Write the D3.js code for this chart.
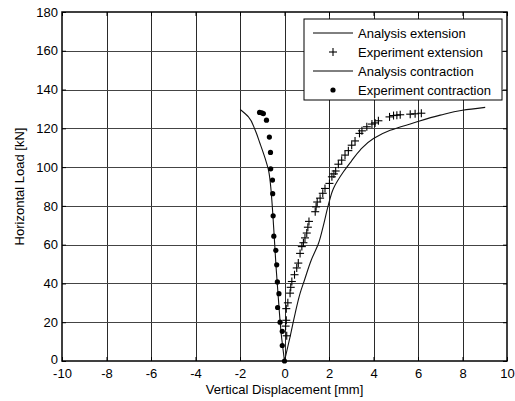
<!DOCTYPE html>
<html>
<head>
<meta charset="utf-8">
<script src="https://cdn.jsdelivr.net/npm/d3@7"></script>
<style>
  html, body { margin: 0; padding: 0; background: #fff; }
  svg { display: block; }
  text { font-family: "Liberation Sans", Arial, sans-serif; fill: #000; }
</style>
</head>
<body>
<svg id="chart" width="515" height="401"></svg>
<script>
// Tick values
const xTicks = [-10, -8, -6, -4, -2, 0, 2, 4, 6, 8, 10];
const yTicks = [0, 20, 40, 60, 80, 100, 120, 140, 160, 180];

// Analysis curve, extension side (displacement mm, load kN)
const anaExtX = [0, 0.25, 0.48, 0.70, 0.90, 1.20, 1.53, 1.75, 1.97, 2.20, 2.65, 3.00, 3.40, 4.00, 4.75, 5.72, 7.00, 8.00, 9.02];
const anaExtY = [0, 12.5, 24.6, 34.9, 41.8, 52.0, 60.7, 70.0, 80.4, 89.0, 97.6, 103.0, 108.8, 114.8, 119.0, 122.5, 126.8, 129.3, 130.8];

// Measured points, extension side
const expExtX = [0.10, 0.05, 0.08, 0.08, 0.15, 0.25, 0.28, 0.33, 0.45, 0.55, 0.62, 0.70, 0.78, 0.85, 0.92, 1.00, 1.05, 1.10, 1.38, 1.42, 1.47, 1.60, 1.72, 1.82, 2.02, 2.13, 2.22, 2.30, 2.42, 2.57, 2.72, 2.87, 3.02, 3.17, 3.37, 3.48, 3.70, 3.93, 4.07, 4.22, 4.72, 4.90, 5.05, 5.20, 5.65, 5.87, 6.15];
const expExtY = [13, 18, 21, 27, 30, 35, 38, 41, 44.5, 48, 50.5, 55.5, 59, 61, 63.5, 66, 69, 72, 77, 79.5, 82, 84, 86.5, 89, 91.6, 95, 96.5, 98, 101.5, 103.6, 106.2, 108.5, 111.3, 113.5, 117.4, 118.7, 120.8, 122.2, 122.8, 123.9, 125.9, 126.6, 126.8, 127.0, 127.3, 127.5, 127.8];

// Analysis curve, contraction side
const anaConX = [0, -0.15, -0.27, -0.38, -0.47, -0.57, -0.62, -0.72, -0.87, -1.10, -1.32, -1.62, -1.99];
const anaConY = [0, 14.3, 31.4, 48.6, 65.8, 83.0, 90.0, 98.5, 104.5, 112.2, 119.1, 125.9, 129.7];

// Measured points, contraction side
const expConX = [-1.12, -1.02, -0.95, -0.81, -0.68, -0.63, -0.62, -0.54, -0.53, -0.51, -0.48, -0.39, -0.35, -0.32, -0.25, -0.31, -0.20, -0.10, -0.10, 0];
const expConY = [128.2, 128.0, 127.6, 124.2, 115.5, 107.6, 99.1, 93.3, 86.3, 74.9, 64.4, 57.1, 49.6, 40.8, 34.7, 27.6, 20.0, 15.3, 8.0, 0];

const legendLabels = ["Analysis extension", "Experiment extension", "Analysis contraction", "Experiment contraction"];

const zip = (xs, ys) => xs.map((x, i) => [x, ys[i]]);
const FS = 13;

const svg = d3.select("#chart");
const m = { left: 62, right: 507, top: 12, bottom: 361 };

const x = d3.scaleLinear().domain([-10, 10]).range([m.left, m.right]);
const y = d3.scaleLinear().domain([0, 180]).range([m.bottom, m.top]);

// grid
const grid = svg.append("g").attr("stroke", "#2a2a2a").attr("stroke-width", 1).attr("shape-rendering", "crispEdges");
grid.selectAll("line.vx").data(xTicks.slice(1, -1)).join("line")
  .attr("x1", d => Math.round(x(d)) + 0.5).attr("x2", d => Math.round(x(d)) + 0.5)
  .attr("y1", m.top).attr("y2", m.bottom);
grid.selectAll("line.hy").data(yTicks.slice(1, -1)).join("line")
  .attr("stroke", "#444")
  .attr("y1", d => Math.round(y(d)) + 0.5).attr("y2", d => Math.round(y(d)) + 0.5)
  .attr("x1", m.left).attr("x2", m.right);

// axes with inward ticks on all four sides; plain hyphen for negatives
const fmt = d => String(d);
const axB = svg.append("g").attr("transform", `translate(0,${m.bottom})`)
  .call(d3.axisBottom(x).tickValues(xTicks).tickFormat(fmt).tickSizeInner(-4).tickSizeOuter(0).tickPadding(8));
const axL = svg.append("g").attr("transform", `translate(${m.left},0)`)
  .call(d3.axisLeft(y).tickValues(yTicks).tickFormat(fmt).tickSizeInner(-4).tickSizeOuter(0).tickPadding(4));
const axT = svg.append("g").attr("transform", `translate(0,${m.top})`)
  .call(d3.axisTop(x).tickValues(xTicks).tickFormat("").tickSizeInner(-4).tickSizeOuter(0));
const axR = svg.append("g").attr("transform", `translate(${m.right},0)`)
  .call(d3.axisRight(y).tickValues(yTicks).tickFormat("").tickSizeInner(-4).tickSizeOuter(0));
[axB, axL, axT, axR].forEach(a => {
  a.select(".domain").remove();
  a.selectAll(".tick line").attr("stroke", "#000");
  a.selectAll("text").attr("font-size", FS).attr("font-family", "Liberation Sans, Arial, sans-serif").attr("fill", "#000");
});
axB.selectAll("text").attr("dy", "0.71em");
// lift the "0" at the origin a little so it clears the "-10" beneath it
axL.selectAll(".tick").filter(d => d === 0).select("text").attr("dy", "0.2em");

// frame
svg.append("rect").attr("x", m.left).attr("y", m.top)
  .attr("width", m.right - m.left).attr("height", m.bottom - m.top)
  .attr("fill", "none").attr("stroke", "#000").attr("stroke-width", 1.5);

// axis titles
svg.append("text").attr("x", (m.left + m.right) / 2).attr("y", 394)
  .attr("text-anchor", "middle").attr("font-size", FS).text("Vertical Displacement [mm]");
svg.append("text").attr("transform", `translate(24,${(m.top + m.bottom) / 2}) rotate(-90)`)
  .attr("text-anchor", "middle").attr("font-size", FS).text("Horizontal Load [kN]");

// curves
const line = d3.line().x(d => x(d[0])).y(d => y(d[1])).curve(d3.curveMonotoneY);
const plot = svg.append("g");
plot.append("path").datum(zip(anaExtX, anaExtY)).attr("d", line)
  .attr("fill", "none").attr("stroke", "#111").attr("stroke-width", 1.1);
plot.append("path").datum(zip(anaConX, anaConY)).attr("d", line)
  .attr("fill", "none").attr("stroke", "#111").attr("stroke-width", 1.1);

// plus markers
const plus = (g, cx, cy, s) => {
  g.append("line").attr("x1", cx - s).attr("x2", cx + s).attr("y1", cy).attr("y2", cy);
  g.append("line").attr("x1", cx).attr("x2", cx).attr("y1", cy - s).attr("y2", cy + s);
};
const crosses = plot.append("g").attr("stroke", "#000").attr("stroke-width", 1.1);
zip(expExtX, expExtY).forEach(d => plus(crosses, x(d[0]), y(d[1]), 4));

plot.append("g").selectAll("circle").data(zip(expConX, expConY)).join("circle")
  .attr("cx", d => x(d[0])).attr("cy", d => y(d[1])).attr("r", 2.6).attr("fill", "#000");

// legend
const lg = svg.append("g");
lg.append("rect").attr("x", 304).attr("y", 19).attr("width", 198).attr("height", 81)
  .attr("fill", "#fff").attr("stroke", "#000").attr("stroke-width", 1);
const rows = [33, 52, 71, 90];
legendLabels.forEach((t, i) => {
  const ry = rows[i];
  if (i === 0 || i === 2) {
    lg.append("line").attr("x1", 313).attr("x2", 353).attr("y1", ry).attr("y2", ry)
      .attr("stroke", "#000").attr("stroke-width", 1);
  } else if (i === 1) {
    const g = lg.append("g").attr("stroke", "#000").attr("stroke-width", 1.1);
    plus(g, 333, ry, 4);
  } else {
    lg.append("circle").attr("cx", 333).attr("cy", ry).attr("r", 2.6).attr("fill", "#000");
  }
  lg.append("text").attr("x", 358).attr("y", ry).attr("dy", "0.35em")
    .attr("font-size", FS).text(t);
});
</script>
</body>
</html>
